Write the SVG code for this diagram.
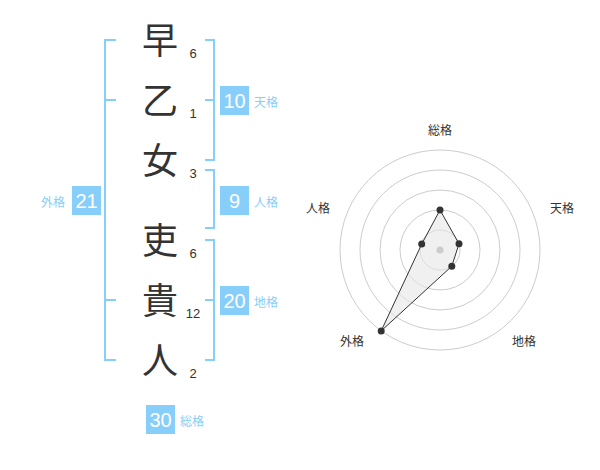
<svg xmlns="http://www.w3.org/2000/svg" width="600" height="470" viewBox="0 0 600 470">
<style>
.ch{font-family:"Noto Sans CJK JP","Noto Sans CJK SC",sans-serif;font-size:36px;fill:#333;text-anchor:middle}
.st{font-family:"Liberation Sans",Arial,sans-serif;font-size:13px;fill:#333;text-anchor:middle}
.br{fill:none;stroke:#87cefa;stroke-width:2}
.box{fill:#87cefa}
.bn{font-family:"Liberation Sans",Arial,sans-serif;font-size:20px;fill:#fff;text-anchor:middle}
.bl{font-family:"Noto Sans CJK JP","Noto Sans CJK SC",sans-serif;font-size:12px;fill:#87cefa}
.ring{fill:none;stroke:#ccc;stroke-width:1}
.rl{font-family:"Noto Sans CJK JP","Noto Sans CJK SC",sans-serif;font-size:12px;fill:#333;text-anchor:middle}
</style>
<g id="names">
<text class="ch" x="160" y="54">早</text>
<text class="ch" x="160" y="114">乙</text>
<text class="ch" x="160" y="174">女</text>
<text class="ch" x="160" y="254">吏</text>
<text class="ch" x="160" y="314">貴</text>
<text class="ch" x="160" y="374">人</text>
<text class="st" x="193" y="58">6</text>
<text class="st" x="193" y="118">1</text>
<text class="st" x="193" y="178">3</text>
<text class="st" x="193" y="258">6</text>
<text class="st" x="193" y="318">12</text>
<text class="st" x="193" y="378">2</text>
</g>
<g id="connectors">
<path class="br" d="M116,40 H105 V360 H116 M105,100 H116 M105,300 H116"/>
<path class="br" d="M205,40 H214 V160 H205 M214,100 H205"/>
<path class="br" d="M205,170 H214 V228 H205"/>
<path class="br" d="M205,240 H214 V360 H205 M214,300 H205"/>
</g>
<g id="tenkaku">
<rect class="box" x="220" y="86" width="29" height="29"/>
<text class="bn" x="234.5" y="108">10</text>
<text class="bl" x="254" y="107">天格</text>
</g>
<g id="jinkaku">
<rect class="box" x="220" y="186" width="29" height="29"/>
<text class="bn" x="234.5" y="208">9</text>
<text class="bl" x="254" y="207">人格</text>
</g>
<g id="chikaku">
<rect class="box" x="220" y="286" width="29" height="29"/>
<text class="bn" x="234.5" y="308">20</text>
<text class="bl" x="254" y="307">地格</text>
</g>
<g id="gaikaku">
<rect class="box" x="72" y="186" width="29" height="29"/>
<text class="bn" x="86.5" y="208">21</text>
<text class="bl" x="41" y="207">外格</text>
</g>
<g id="soukaku">
<rect class="box" x="146" y="405" width="29" height="29"/>
<text class="bn" x="160.5" y="427">30</text>
<text class="bl" x="180" y="426">総格</text>
</g>
<g id="radar">
<circle class="ring" cx="440" cy="250" r="100"/>
<circle class="ring" cx="440" cy="250" r="80"/>
<circle class="ring" cx="440" cy="250" r="60"/>
<circle class="ring" cx="440" cy="250" r="40"/>
<circle class="ring" cx="440" cy="250" r="20"/>
<polygon points="440,210 459,243.8 451.8,266.2 381.2,330.9 421.7,244.1" fill="#e6e6e6" fill-opacity="0.6" stroke="#333" stroke-width="1"/>
<circle cx="440" cy="250" r="3.5" fill="#ccc"/>
<g fill="#333">
<circle cx="440" cy="210" r="3.5"/>
<circle cx="459" cy="243.8" r="3.5"/>
<circle cx="451.8" cy="266.2" r="3.5"/>
<circle cx="381.2" cy="330.9" r="3.5"/>
<circle cx="421.7" cy="244.1" r="3.5"/>
</g>
<text class="rl" x="440" y="135">総格</text>
<text class="rl" x="562" y="213">天格</text>
<text class="rl" x="524" y="346">地格</text>
<text class="rl" x="352" y="346">外格</text>
<text class="rl" x="318" y="213">人格</text>
</g>
</svg>
